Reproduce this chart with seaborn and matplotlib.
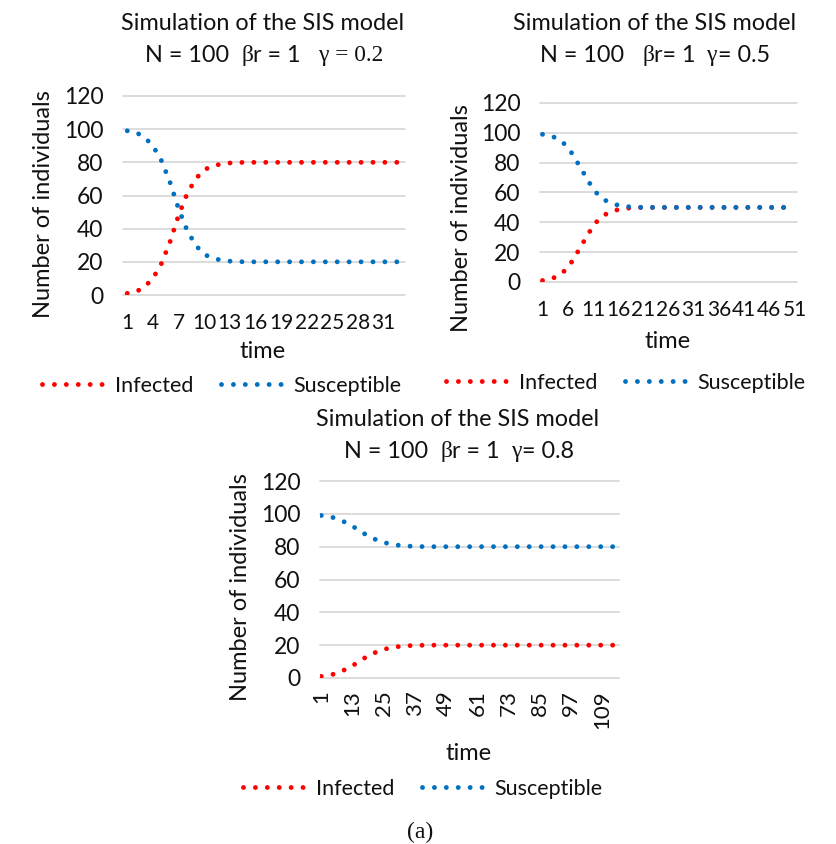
import matplotlib
matplotlib.use("Agg")
import matplotlib.pyplot as plt
import seaborn as sns
import pandas as pd

# ---------------- data ----------------
time_a = list(range(1, 34))
infected_a = [1.0, 1.9, 4.8, 10.0, 19.0, 32.0, 48.0, 61.0, 70.0, 75.5, 77.8, 79.0, 79.6, 79.9,
              80, 80, 80, 80, 80, 80, 80, 80, 80, 80, 80, 80, 80, 80, 80, 80, 80, 80, 80]
susceptible_a = [99.0, 98.1, 95.2, 90.0, 81.0, 68.0, 52.0, 39.0, 30.0, 24.5, 22.2, 21.0, 20.4, 20.1,
                 20, 20, 20, 20, 20, 20, 20, 20, 20, 20, 20, 20, 20, 20, 20, 20, 20, 20, 20]
ticks_a = [1, 4, 7, 10, 13, 16, 19, 22, 25, 28, 31]

time_b = list(range(1, 52))
infected_b = [1.0, 1.6, 2.5, 3.9, 6.3, 9.8, 14.5, 20.3, 26.0, 32.0, 37.0, 41.5, 44.3, 46.3, 47.6,
              48.5, 49.1, 49.5, 49.7, 49.9,
              50, 50, 50, 50, 50, 50, 50, 50, 50, 50, 50, 50, 50, 50, 50, 50, 50, 50, 50, 50,
              50, 50, 50, 50, 50, 50, 50, 50, 50, 50, 50]
susceptible_b = [99.0, 98.4, 97.5, 96.1, 93.7, 90.2, 85.5, 79.7, 74.0, 68.0, 63.0, 58.5, 55.7, 53.7, 52.4,
                 51.5, 50.9, 50.5, 50.3, 50.1,
                 50, 50, 50, 50, 50, 50, 50, 50, 50, 50, 50, 50, 50, 50, 50, 50, 50, 50, 50, 50,
                 50, 50, 50, 50, 50, 50, 50, 50, 50, 50, 50]
ticks_b = [1, 6, 11, 16, 21, 26, 31, 36, 41, 46, 51]

time_c = list(range(1, 116))
infected_c = [1.0, 1.2, 1.45, 1.7, 2.0, 2.5, 3.0, 3.7, 4.3, 5.0, 5.8, 6.6, 7.5, 8.5, 9.5, 10.6, 11.6,
              12.5, 13.4, 14.2, 15.0, 15.7, 16.3, 16.9, 17.4, 17.8, 18.2, 18.5, 18.8, 19.0, 19.2,
              19.4, 19.5, 19.6, 19.7, 19.8, 19.85, 19.9, 19.9, 19.95,
              20, 20, 20, 20, 20, 20, 20, 20, 20, 20, 20, 20, 20, 20, 20, 20, 20, 20, 20, 20,
              20, 20, 20, 20, 20, 20, 20, 20, 20, 20, 20, 20, 20, 20, 20, 20, 20, 20, 20, 20,
              20, 20, 20, 20, 20, 20, 20, 20, 20, 20, 20, 20, 20, 20, 20, 20, 20, 20, 20, 20,
              20, 20, 20, 20, 20, 20, 20, 20, 20, 20, 20, 20, 20, 20, 20]
susceptible_c = [99.0, 98.8, 98.55, 98.3, 98.0, 97.5, 97.0, 96.3, 95.7, 95.0, 94.2, 93.4, 92.5, 91.5,
                 90.5, 89.4, 88.4, 87.5, 86.6, 85.8, 85.0, 84.3, 83.7, 83.1, 82.6, 82.2, 81.8, 81.5,
                 81.2, 81.0, 80.8, 80.6, 80.5, 80.4, 80.3, 80.2, 80.15, 80.1, 80.1, 80.05,
                 80, 80, 80, 80, 80, 80, 80, 80, 80, 80, 80, 80, 80, 80, 80, 80, 80, 80, 80, 80,
                 80, 80, 80, 80, 80, 80, 80, 80, 80, 80, 80, 80, 80, 80, 80, 80, 80, 80, 80, 80,
                 80, 80, 80, 80, 80, 80, 80, 80, 80, 80, 80, 80, 80, 80, 80, 80, 80, 80, 80, 80,
                 80, 80, 80, 80, 80, 80, 80, 80, 80, 80, 80, 80, 80, 80, 80]
ticks_c = [1, 13, 25, 37, 49, 61, 73, 85, 97, 109]
y_ticks = [0, 20, 40, 60, 80, 100, 120]
series_names = ["Infected", "Susceptible"]

# ---------------- style ----------------
sns.set_theme(style="white")
SANS = ["Lato", "DejaVu Sans"]
SERIF = ["Liberation Serif", "DejaVu Serif"]
plt.rcParams["font.family"] = SANS
RED = "#FF0000"
BLUE = "#0070C0"
TXT = "#111111"
FS_TITLE = 16.8
FS_LAB = 17.0
FS_YT = 16.5
FS_XT = 15.0
FS_LEG = 15.5

W, H = 837, 844
fig = plt.figure(figsize=(W / 100, H / 100), dpi=100)
renderer = fig.canvas.get_renderer()


def rect(x0, x1, ytop, ybot):
    return [x0 / W, 1 - ybot / H, (x1 - x0) / W, (ybot - ytop) / H]


def ftext(x, y, s, **kw):
    kw.setdefault("fontsize", FS_LAB)
    kw.setdefault("color", TXT)
    return fig.text(x / W, 1 - y / H, s, **kw)


def rich(xc, y, pieces, size=FS_TITLE):
    texts = []
    widths = []
    for s, fam in pieces:
        t = fig.text(0, 1 - y / H, s, family=fam, fontsize=size, color=TXT,
                     ha="left", va="center")
        widths.append(t.get_window_extent(renderer).width)
        texts.append(t)
    total = sum(widths)
    x = xc - total / 2
    for t, w in zip(texts, widths):
        t.set_x(x / W)
        x += w


LW = 3.5
line_kw = dict(linewidth=LW, linestyle=(0, (0.001, 2.45)), dash_capstyle="round",
               estimator=None, sort=False)


def panel(r, time, inf, sus, xticks, rot, xpad, xfs):
    ax = fig.add_axes(r)
    df = pd.DataFrame({"time": time, "Infected": inf, "Susceptible": sus})
    sns.lineplot(data=df, x="time", y="Infected", ax=ax, color=RED, label=series_names[0], **line_kw)
    sns.lineplot(data=df, x="time", y="Susceptible", ax=ax, color=BLUE, label=series_names[1], **line_kw)
    ax.set_xlim(0.5, len(time) + 0.5)
    ax.set_ylim(0, 120)
    ax.set_yticks(y_ticks)
    ax.set_xticks(xticks)
    ax.set_xticklabels([str(t) for t in xticks], rotation=rot)
    ax.yaxis.grid(True, color="#D9D9D9", linewidth=1.3)
    ax.xaxis.grid(False)
    for gl in ax.get_ygridlines():
        gl.set_clip_on(False)
    for sp in ax.spines.values():
        sp.set_visible(False)
    ax.tick_params(axis="y", length=0, labelsize=FS_YT, pad=14, labelcolor=TXT)
    ax.tick_params(axis="x", length=0, labelsize=xfs, pad=xpad, labelcolor=TXT)
    ax.set_xlabel("")
    ax.set_ylabel("")
    handles, labels = ax.get_legend_handles_labels()
    ax.get_legend().remove()
    ax.set_axisbelow(True)
    return ax, handles, labels


def legend(handles, labels, xc, yc):
    fig.legend(handles, labels, loc="center", bbox_to_anchor=(xc / W, 1 - yc / H), ncol=2,
               frameon=False, fontsize=FS_LEG, handlelength=2.8, handletextpad=0.6,
               columnspacing=1.25, labelcolor=TXT, borderaxespad=0, borderpad=0)


# ---- panel A ----
ax, h, l = panel(rect(123, 405, 96, 295), time_a, infected_a, susceptible_a, ticks_a, 0, 13, FS_XT)
ftext(263, 23, "Simulation of the SIS model", ha="center", va="center", fontsize=FS_TITLE)
rich(264, 55, [("N = 100  ", SANS), ("β", SERIF), ("r = 1   ", SANS), ("γ = 0.2", SERIF)])
ftext(44, 204, "Number of individuals", rotation=90, ha="center", va="center")
ftext(263, 352, "time", ha="center", va="center")
legend(h, l, 222, 386)

# ---- panel B ----
ax, h, l = panel(rect(540, 797, 103, 282), time_b, infected_b, susceptible_b, ticks_b, 0, 13, FS_XT)
ftext(655, 23, "Simulation of the SIS model", ha="center", va="center", fontsize=FS_TITLE)
rich(655, 56, [("N = 100   ", SANS), ("β", SERIF), ("r= 1  ", SANS), ("γ", SERIF), ("= 0.5", SANS)])
ftext(462, 218, "Number of individuals", rotation=90, ha="center", va="center")
ftext(668, 342, "time", ha="center", va="center")
legend(h, l, 626, 383)

# ---- panel C ----
ax, h, l = panel(rect(320, 619, 481, 678), time_c, infected_c, susceptible_c, ticks_c, 90, 9, 16.0)
ftext(458, 419, "Simulation of the SIS model", ha="center", va="center", fontsize=FS_TITLE)
rich(459, 452, [("N = 100  ", SANS), ("β", SERIF), ("r = 1  ", SANS), ("γ", SERIF), ("= 0.8", SANS)])
ftext(241, 587, "Number of individuals", rotation=90, ha="center", va="center")
ftext(469, 753, "time", ha="center", va="center")
legend(h, l, 423, 789)

ftext(420, 832, "(a)", ha="center", va="center", family=SERIF, fontsize=17)

fig.savefig("out.png", dpi=100)
